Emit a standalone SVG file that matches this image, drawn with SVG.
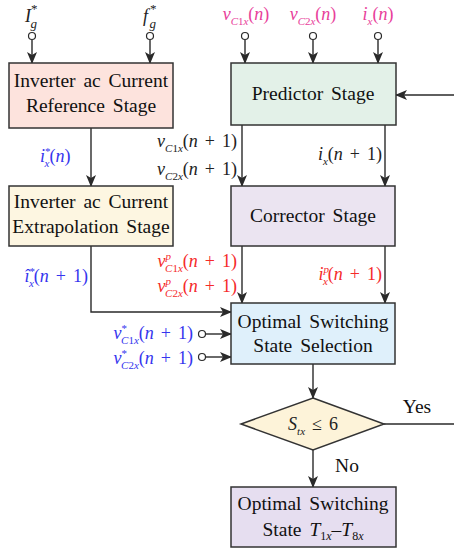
<svg xmlns="http://www.w3.org/2000/svg" width="454" height="553" viewBox="0 0 454 553">
<defs>
<marker id="ah" markerWidth="12" markerHeight="10" refX="11" refY="5" orient="auto" markerUnits="userSpaceOnUse">
<path d="M0,0 L12,5 L0,10 L3,5 Z" fill="#2a2a2a"/>
</marker>
</defs>
<style>
text{font-family:'Liberation Serif','Times New Roman',serif}
.box{stroke:#333;stroke-width:1.5}
.t{font-size:19.5px;fill:#111;text-anchor:middle;word-spacing:3px}
.m{font-size:18px;fill:#222;word-spacing:2.5px}
.i{font-style:italic}
.s{font-size:11px}
.mag{fill:#e8409a}
.blu{fill:#3535ee}
.red{fill:#f52a2a}
.ln{stroke:#2a2a2a;stroke-width:1.4;fill:none}
.ar{marker-end:url(#ah)}
.pin{fill:#fff;stroke:#2a2a2a;stroke-width:1.2}
</style>

<g id="connectors">
<circle class="pin" cx="32" cy="36" r="3.5"/>
<line class="ln ar" x1="32" y1="40" x2="32" y2="63"/>
<circle class="pin" cx="150" cy="36" r="3.5"/>
<line class="ln ar" x1="150" y1="40" x2="150" y2="63"/>
<circle class="pin" cx="245" cy="36" r="3.5"/>
<line class="ln ar" x1="245" y1="40" x2="245" y2="63"/>
<circle class="pin" cx="313" cy="36" r="3.5"/>
<line class="ln ar" x1="313" y1="40" x2="313" y2="63"/>
<circle class="pin" cx="378" cy="36" r="3.5"/>
<line class="ln ar" x1="378" y1="40" x2="378" y2="63"/>
<line class="ln ar" x1="454" y1="95" x2="396" y2="95"/>
<line class="ln ar" x1="91" y1="128" x2="91" y2="186"/>
<line class="ln ar" x1="242" y1="125" x2="242" y2="186"/>
<line class="ln ar" x1="385" y1="125" x2="385" y2="186"/>
<line class="ln ar" x1="242" y1="246" x2="242" y2="303"/>
<line class="ln ar" x1="385" y1="246" x2="385" y2="303"/>
<polyline class="ln ar" points="91,246 91,312 231,312"/>
<circle class="pin" cx="202" cy="334" r="3.5"/>
<line class="ln ar" x1="206" y1="334" x2="231" y2="334"/>
<circle class="pin" cx="202" cy="357" r="3.5"/>
<line class="ln ar" x1="206" y1="357" x2="231" y2="357"/>
<line class="ln ar" x1="313" y1="364" x2="313" y2="398"/>
<line class="ln ar" x1="313" y1="450" x2="313" y2="487"/>
<line class="ln" x1="384" y1="424" x2="454" y2="424"/>
</g>

<g id="labels">
<text class="m" x="25" y="22" font-size="20"><tspan class="i">I</tspan><tspan dy="-9" font-size="13">*</tspan><tspan class="i" dx="-7" dy="15" font-size="13">g</tspan></text>
<text class="m" x="143" y="22" font-size="20"><tspan class="i">f</tspan><tspan dx="2" dy="-9" font-size="13">*</tspan><tspan class="i" dx="-7" dy="15" font-size="13">g</tspan></text>
<text class="m mag" x="246" y="20" text-anchor="middle"><tspan class="i">v</tspan><tspan class="s" dy="5"><tspan class="i">C</tspan>1<tspan class="i">x</tspan></tspan><tspan dy="-5">(<tspan class="i">n</tspan>)</tspan></text>
<text class="m mag" x="313" y="20" text-anchor="middle"><tspan class="i">v</tspan><tspan class="s" dy="5"><tspan class="i">C</tspan>2<tspan class="i">x</tspan></tspan><tspan dy="-5">(<tspan class="i">n</tspan>)</tspan></text>
<text class="m mag" x="378" y="20" text-anchor="middle"><tspan class="i">i</tspan><tspan class="s i" dy="5">x</tspan><tspan dy="-5">(<tspan class="i">n</tspan>)</tspan></text>
<text class="m blu" x="40" y="162"><tspan class="i">i</tspan><tspan class="s" dy="-7">*</tspan><tspan class="s i" dx="-6" dy="12">x</tspan><tspan dy="-5">(<tspan class="i">n</tspan>)</tspan></text>
<text class="m" x="237" y="147" text-anchor="end"><tspan class="i">v</tspan><tspan class="s" dy="5"><tspan class="i">C</tspan>1<tspan class="i">x</tspan></tspan><tspan dy="-5">(<tspan class="i">n</tspan> + 1)</tspan></text>
<text class="m" x="237" y="175" text-anchor="end"><tspan class="i">v</tspan><tspan class="s" dy="5"><tspan class="i">C</tspan>2<tspan class="i">x</tspan></tspan><tspan dy="-5">(<tspan class="i">n</tspan> + 1)</tspan></text>
<text class="m" x="382" y="160" text-anchor="end"><tspan class="i">i</tspan><tspan class="s i" dy="5">x</tspan><tspan dy="-5">(<tspan class="i">n</tspan> + 1)</tspan></text>
<text class="m red" x="237" y="267" text-anchor="end"><tspan class="i">v</tspan><tspan class="s i" dy="-7">p</tspan><tspan class="s" dx="-6" dy="12"><tspan class="i">C</tspan>1<tspan class="i">x</tspan></tspan><tspan dy="-5">(<tspan class="i">n</tspan> + 1)</tspan></text>
<text class="m red" x="237" y="292" text-anchor="end"><tspan class="i">v</tspan><tspan class="s i" dy="-7">p</tspan><tspan class="s" dx="-6" dy="12"><tspan class="i">C</tspan>2<tspan class="i">x</tspan></tspan><tspan dy="-5">(<tspan class="i">n</tspan> + 1)</tspan></text>
<text class="m red" x="382" y="280" text-anchor="end"><tspan class="i">i</tspan><tspan class="s i" dy="-7">p</tspan><tspan class="s i" dx="-6" dy="12">x</tspan><tspan dy="-5">(<tspan class="i">n</tspan> + 1)</tspan></text>
<text class="m blu" x="88" y="282" text-anchor="end"><tspan class="i">i&#x302;</tspan><tspan class="s" dy="-7">*</tspan><tspan class="s i" dx="-6" dy="12">x</tspan><tspan dy="-5">(<tspan class="i">n</tspan> + 1)</tspan></text>
<text class="m blu" x="193" y="339" text-anchor="end"><tspan class="i">v</tspan><tspan class="s" dy="-7">*</tspan><tspan class="s" dx="-6" dy="12"><tspan class="i">C</tspan>1<tspan class="i">x</tspan></tspan><tspan dy="-5">(<tspan class="i">n</tspan> + 1)</tspan></text>
<text class="m blu" x="193" y="364" text-anchor="end"><tspan class="i">v</tspan><tspan class="s" dy="-7">*</tspan><tspan class="s" dx="-6" dy="12"><tspan class="i">C</tspan>2<tspan class="i">x</tspan></tspan><tspan dy="-5">(<tspan class="i">n</tspan> + 1)</tspan></text>
<text class="t" x="417" y="413">Yes</text>
<text class="t" x="347" y="472">No</text>
</g>

<g id="ref-stage">
<rect class="box" x="9" y="63" width="164" height="65" fill="#fde3dd"/>
<text class="t" x="91" y="87">Inverter ac Current</text>
<text class="t" x="91" y="112">Reference Stage</text>
</g>
<g id="predictor">
<rect class="box" x="231" y="63" width="165" height="62" fill="#e3f1e8"/>
<text class="t" x="313" y="100">Predictor Stage</text>
</g>
<g id="extrapolation">
<rect class="box" x="9" y="186" width="164" height="60" fill="#fdf6e1"/>
<text class="t" x="91" y="208">Inverter ac Current</text>
<text class="t" x="91" y="233">Extrapolation Stage</text>
</g>
<g id="corrector">
<rect class="box" x="231" y="186" width="164" height="60" fill="#ebe4f1"/>
<text class="t" x="313" y="222">Corrector Stage</text>
</g>
<g id="selection">
<rect class="box" x="231" y="303" width="164" height="61" fill="#dff0fb"/>
<text class="t" x="313" y="328">Optimal Switching</text>
<text class="t" x="313" y="352">State Selection</text>
</g>
<g id="decision">
<polygon class="box" points="313,398 384,424 313,450 241,424" fill="#fdf3d9"/>
<text class="m" x="313" y="430" text-anchor="middle" font-size="19" word-spacing="3"><tspan class="i">S</tspan><tspan class="s i" dy="5">tx</tspan><tspan dy="-5"> ≤ 6</tspan></text>
</g>
<g id="final">
<rect class="box" x="231" y="487" width="165" height="60" fill="#e6def0"/>
<text class="t" x="313" y="510">Optimal Switching</text>
<text class="t" x="313" y="536">State <tspan class="i">T</tspan><tspan font-size="12" dy="4">1<tspan class="i">x</tspan></tspan><tspan dy="-4">–<tspan class="i">T</tspan></tspan><tspan font-size="12" dy="4">8<tspan class="i">x</tspan></tspan></text>
</g>
</svg>
